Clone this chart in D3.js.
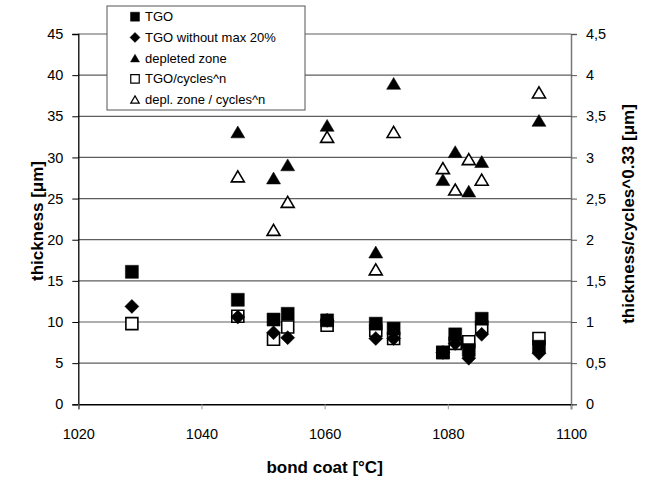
<!DOCTYPE html>
<html>
<head>
<meta charset="utf-8">
<script src="https://cdn.jsdelivr.net/npm/d3@7"></script>
<style>
  body { margin: 0; background: #fff; }
  text { font-family: Arial, "Liberation Sans", sans-serif; fill: #000; }
</style>
</head>
<body>
<svg id="chart" width="651" height="478"></svg>
<script>
// bond coat temperature of each sample
var bondCoat = [1028.7, 1045.9, 1051.7, 1054.0, 1060.4, 1068.3, 1071.2, 1079.2, 1081.2, 1083.4, 1085.5, 1094.8];

// left axis, thickness in um
var tgo = [16.1, 12.7, 10.3, 11.0, 10.2, 9.8, 9.2, 6.3, 8.5, 6.6, 10.4, 7.0];
var tgoNoMax = [11.9, 10.6, 8.7, 8.1, 10.2, 8.0, 8.0, 6.3, 7.4, 5.6, 8.5, 6.2];
var depleted = [null, 33.1, 27.5, 29.1, 33.9, 18.5, 39.0, 27.3, 30.7, 25.9, 29.5, 34.5];

// right axis, thickness/cycles^0.33
var tgoCycles = [0.98, 1.07, 0.79, 0.94, 0.96, 0.90, 0.80, 0.63, 0.74, 0.76, 0.94, 0.80];
var deplCycles = [null, 2.77, 2.12, 2.46, 3.25, 1.64, 3.31, 2.87, 2.61, 2.98, 2.73, 3.79];

var xTicks = [1020, 1040, 1060, 1080, 1100];
var yTicksLeft = [0, 5, 10, 15, 20, 25, 30, 35, 40, 45];
var yTicksRight = [0, 0.5, 1, 1.5, 2, 2.5, 3, 3.5, 4, 4.5];

var legendNames = ["TGO", "TGO without max 20%", "depleted zone", "TGO/cycles^n", "depl. zone / cycles^n"];

var svg = d3.select("#chart");

var plotLeft = 78.3, plotRight = 571, plotTop = 34, plotBottom = 404.3;

var x = d3.scaleLinear().domain([1020, 1100]).range([plotLeft, plotRight]);
var yL = d3.scaleLinear().domain([0, 45]).range([plotBottom, plotTop]);
var yR = d3.scaleLinear().domain([0, 4.5]).range([plotBottom, plotTop]);

// marker shapes, centred on 0,0
function shapePath(kind, s) {
    var h = s / 2;
    if (kind == "square") return "M" + (-h) + "," + (-h) + "h" + s + "v" + s + "h" + (-s) + "Z";
    if (kind == "diamond") return "M0," + (-h - 0.5) + "L" + (h + 0.5) + ",0L0," + (h + 0.5) + "L" + (-h - 0.5) + ",0Z";
    // triangle
    return "M0," + (-h * 0.85) + "L" + h + "," + (h * 0.85) + "L" + (-h) + "," + (h * 0.85) + "Z";
}

// gridlines
svg.append("g").selectAll("line").data(yTicksLeft.filter(function (d) { return d > 0; }))
    .enter().append("line")
    .attr("x1", plotLeft).attr("x2", plotRight)
    .attr("y1", function (d) { return yL(d); })
    .attr("y2", function (d) { return yL(d); })
    .attr("stroke", "#5e5e5e").attr("stroke-width", 1.2);

// left axis
var axL = svg.append("g").attr("transform", "translate(" + plotLeft + ",0)")
    .call(d3.axisLeft(yL).tickValues(yTicksLeft).tickSize(6).tickPadding(9).tickFormat(d3.format("d")));
axL.select(".domain").attr("stroke", "#000").attr("stroke-width", 1.3);
axL.selectAll(".tick line").attr("stroke", "#000");
axL.selectAll("text").style("font-size", "14.5px").attr("font-family", null);

// right axis
var axR = svg.append("g").attr("transform", "translate(" + plotRight + ",0)")
    .call(d3.axisRight(yR).tickValues(yTicksRight).tickSize(6).tickPadding(9)
        .tickFormat(function (d) { return String(d).replace(".", ","); }));
axR.select(".domain").attr("stroke", "#777").attr("stroke-width", 1.5);
axR.selectAll(".tick line").attr("stroke", "#555");
axR.selectAll("text").style("font-size", "14.5px").attr("font-family", null);

// bottom axis
var axB = svg.append("g").attr("transform", "translate(0," + plotBottom + ")")
    .call(d3.axisBottom(x).tickValues(xTicks).tickSize(5).tickPadding(19).tickFormat(d3.format("d")));
axB.select(".domain").attr("stroke", "#000").attr("stroke-width", 1.5);
axB.selectAll(".tick line").attr("stroke", "#999");
axB.selectAll("text").style("font-size", "14.5px").attr("font-family", null);

// axis titles
svg.append("text").attr("x", (plotLeft + plotRight) / 2).attr("y", 473)
    .attr("text-anchor", "middle").style("font-size", "17px").style("font-weight", "bold")
    .text("bond coat [°C]");
svg.append("text").attr("transform", "translate(43,221) rotate(-90)")
    .attr("text-anchor", "middle").style("font-size", "17px").style("font-weight", "bold")
    .text("thickness [μm]");
svg.append("text").attr("transform", "translate(634,214) rotate(-90)")
    .attr("text-anchor", "middle").style("font-size", "17px").style("font-weight", "bold")
    .text("thickness/cycles^0.33 [μm]");

// series, secondary axis drawn first (behind)
var series = [
    { values: tgoCycles, y: yR, kind: "square", filled: false },
    { values: deplCycles, y: yR, kind: "triangle", filled: false },
    { values: tgo, y: yL, kind: "square", filled: true },
    { values: tgoNoMax, y: yL, kind: "diamond", filled: true },
    { values: depleted, y: yL, kind: "triangle", filled: true }
];

series.forEach(function (s) {
    var size = s.kind == "triangle" ? (s.filled ? 14 : 13) : (s.filled ? 13 : 12);
    var pts = bondCoat.map(function (t, i) { return { t: t, v: s.values[i] }; })
        .filter(function (p) { return p.v != null; });
    svg.append("g").selectAll("path").data(pts).enter().append("path")
        .attr("transform", function (p) { return "translate(" + x(p.t) + "," + s.y(p.v) + ")"; })
        .attr("d", shapePath(s.kind, size))
        .attr("fill", s.filled ? "#000" : "#fff")
        .attr("stroke", "#000")
        .attr("stroke-width", s.filled ? 0.5 : 1.6);
});

// legend
var lg = svg.append("g");
lg.append("rect").attr("x", 107).attr("y", 6).attr("width", 198).attr("height", 104)
    .attr("fill", "#fff").attr("stroke", "#555").attr("stroke-width", 1);
var legendKinds = [["square", true], ["diamond", true], ["triangle", true], ["square", false], ["triangle", false]];
legendNames.forEach(function (name, i) {
    var cy = 16.7 + i * 20.7;
    lg.append("path").attr("transform", "translate(135," + cy + ")")
        .attr("d", shapePath(legendKinds[i][0], legendKinds[i][1] ? 9 : 8.5))
        .attr("fill", legendKinds[i][1] ? "#000" : "#fff")
        .attr("stroke", "#000").attr("stroke-width", legendKinds[i][1] ? 0.5 : 1.2);
    lg.append("text").attr("x", 145).attr("y", cy).attr("dy", "0.36em")
        .style("font-size", "13px").text(name);
});
</script>
</body>
</html>
